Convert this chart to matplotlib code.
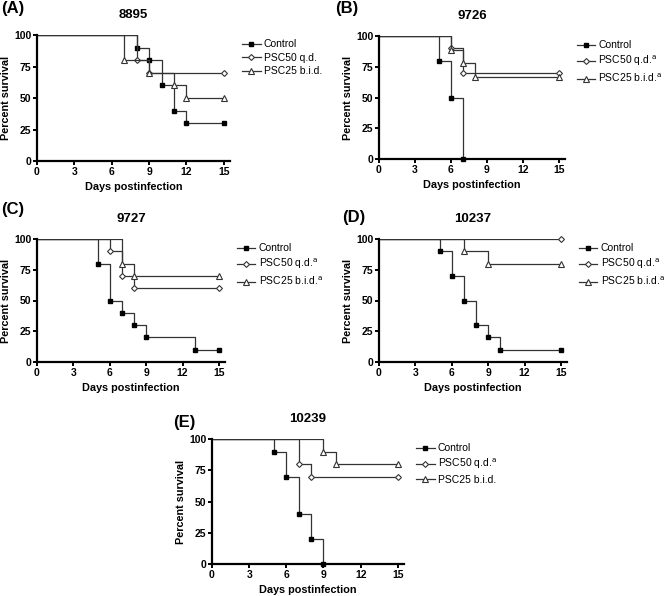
import matplotlib
matplotlib.use("Agg")
import matplotlib.pyplot as plt

plt.rcParams["font.family"] = ["Liberation Sans", "DejaVu Sans"]

# survival curves: day of each event and percent surviving after it
a_ctrl_days = [0, 8, 9, 10, 11, 12, 15]
a_ctrl_surv = [100, 90, 80, 60, 40, 30, 30]
a_p50_days = [0, 8, 9, 15]
a_p50_surv = [100, 80, 70, 70]
a_p25_days = [0, 7, 9, 11, 12, 15]
a_p25_surv = [100, 80, 70, 60, 50, 50]

b_ctrl_days = [0, 5, 6, 7]
b_ctrl_surv = [100, 80, 50, 0]
b_p50_days = [0, 6, 7, 15]
b_p50_surv = [100, 90, 70, 70]
b_p25_days = [0, 6, 7, 8, 15]
b_p25_surv = [100, 88.9, 77.8, 66.7, 66.7]

c_ctrl_days = [0, 5, 6, 7, 8, 9, 13, 15]
c_ctrl_surv = [100, 80, 50, 40, 30, 20, 10, 10]
c_p50_days = [0, 6, 7, 8, 15]
c_p50_surv = [100, 90, 70, 60, 60]
c_p25_days = [0, 7, 8, 15]
c_p25_surv = [100, 80, 70, 70]

d_ctrl_days = [0, 5, 6, 7, 8, 9, 10, 15]
d_ctrl_surv = [100, 90, 70, 50, 30, 20, 10, 10]
d_p50_days = [0, 15]
d_p50_surv = [100, 100]
d_p25_days = [0, 7, 9, 15]
d_p25_surv = [100, 90, 80, 80]

e_ctrl_days = [0, 5, 6, 7, 8, 9]
e_ctrl_surv = [100, 90, 70, 40, 20, 0]
e_p50_days = [0, 7, 8, 15]
e_p50_surv = [100, 80, 70, 70]
e_p25_days = [0, 9, 10, 15]
e_p25_surv = [100, 90, 80, 80]

x_ticks = [0, 3, 6, 9, 12, 15]
y_ticks = [0, 25, 50, 75, 100]

W, H = 664, 596
fig = plt.figure(figsize=(W / 100, H / 100), dpi=100)


def px_axes(left, right, top, bottom):
    # pixel box of the data area -> figure fraction
    return fig.add_axes([left / W, 1 - bottom / H, (right - left) / W, (bottom - top) / H])


def draw_panel(ax, title, curves, labels):
    styles = [
        dict(marker="s", mfc="black", mec="black", ms=3.2),
        dict(marker="D", mfc="white", mec="#333333", ms=3.0, mew=0.8),
        dict(marker="^", mfc="white", mec="#333333", ms=3.8, mew=0.8),
    ]
    for (days, surv), st, lab in zip(curves, styles, labels):
        ax.step(days, surv, where="post", color="#333333", lw=0.9)
        ax.plot(days[1:], surv[1:], linestyle="none", clip_on=False, **st)
        ax.plot([], [], color="#333333", lw=0.9, label=lab, **st)
    ax.set_xlim(0, 15.5)
    ax.set_ylim(0, 100)
    ax.set_xticks(x_ticks)
    ax.set_yticks(y_ticks)
    for s in ["top", "right"]:
        ax.spines[s].set_visible(False)
    for s in ["left", "bottom"]:
        ax.spines[s].set_linewidth(1.6)
    ax.tick_params(direction="out", length=3, width=1.4, labelsize=7.5, pad=1)
    for t in ax.get_xticklabels() + ax.get_yticklabels():
        t.set_fontweight("bold")
    ax.set_xlabel("Days postinfection", fontsize=7.8, fontweight="bold", labelpad=4)
    ax.set_ylabel("Percent survival", fontsize=7.8, fontweight="bold", labelpad=2)
    ax.set_title(title, fontsize=9.5, fontweight="bold", pad=12)
    ax.legend(loc="upper left", bbox_to_anchor=(1.04, 1.0), frameon=False,
              fontsize=7.5, handlelength=1.8, handletextpad=0.3, labelspacing=0.35,
              borderaxespad=0)


lab_plain = ["Control", "PSC50 q.d.", "PSC25 b.i.d."]
lab_a = ["Control", "PSC50 q.d.$^{\\rm a}$", "PSC25 b.i.d.$^{\\rm a}$"]
lab_e = ["Control", "PSC50 q.d.$^{\\rm a}$", "PSC25 b.i.d."]

ax_a = px_axes(37, 230, 35, 161)
draw_panel(ax_a, "8895", [(a_ctrl_days, a_ctrl_surv), (a_p50_days, a_p50_surv),
                          (a_p25_days, a_p25_surv)], lab_plain)

ax_b = px_axes(379, 565, 36, 159)
draw_panel(ax_b, "9726", [(b_ctrl_days, b_ctrl_surv), (b_p50_days, b_p50_surv),
                          (b_p25_days, b_p25_surv)], lab_a)

ax_c = px_axes(37, 225, 239, 362)
draw_panel(ax_c, "9727", [(c_ctrl_days, c_ctrl_surv), (c_p50_days, c_p50_surv),
                          (c_p25_days, c_p25_surv)], lab_a)

ax_d = px_axes(379, 567, 239, 362)
draw_panel(ax_d, "10237", [(d_ctrl_days, d_ctrl_surv), (d_p50_days, d_p50_surv),
                           (d_p25_days, d_p25_surv)], lab_a)

ax_e = px_axes(212, 404, 439, 564)
draw_panel(ax_e, "10239", [(e_ctrl_days, e_ctrl_surv), (e_p50_days, e_p50_surv),
                           (e_p25_days, e_p25_surv)], lab_e)

panel_labels = [("(A)", 1, 1), ("(B)", 335, 1), ("(C)", 1, 202), ("(D)", 342, 210), ("(E)", 173, 415)]
for txt, x, y in panel_labels:
    fig.text(x / W, 1 - y / H, txt, fontsize=12, fontweight="bold", ha="left", va="top")

fig.savefig("out.png", dpi=100)
